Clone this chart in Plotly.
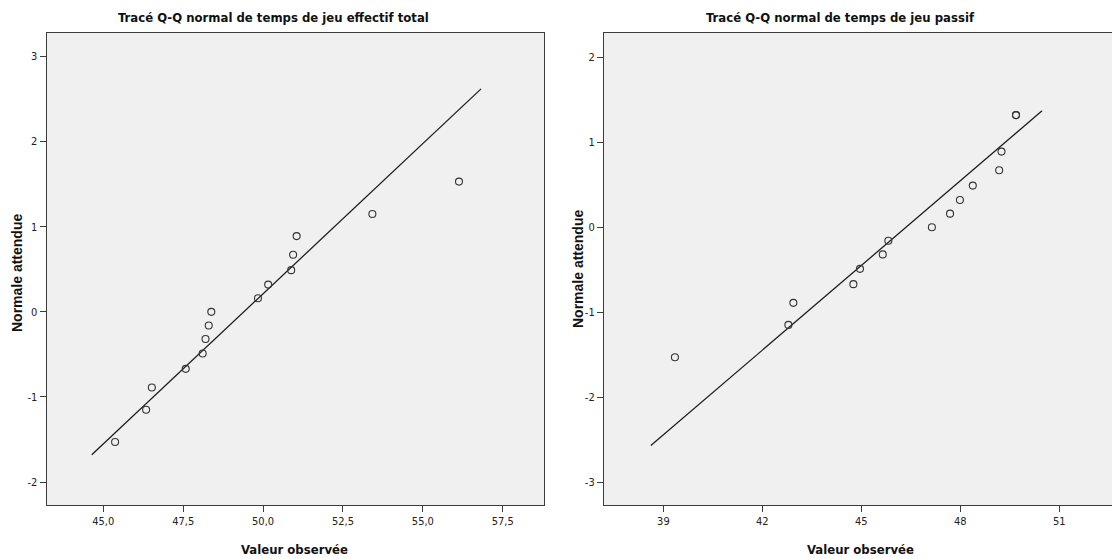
import plotly.graph_objects as go

W, H = 1112, 559

# Temps de jeu effectif total : valeurs observées et normale attendue
eff_obs = [45.37, 46.34, 46.52, 47.58, 48.11, 48.20, 48.30, 48.38,
           49.84, 50.16, 50.88, 50.94, 51.05, 53.42, 56.13]
eff_exp = [-1.53, -1.15, -0.89, -0.67, -0.49, -0.32, -0.16, 0.00,
           0.16, 0.32, 0.49, 0.67, 0.89, 1.15, 1.53]
eff_line_x = [44.64, 56.82]
eff_line_y = [-1.68, 2.62]
eff_xticks = [45.0, 47.5, 50.0, 52.5, 55.0, 57.5]
eff_xtext = ["45,0", "47,5", "50,0", "52,5", "55,0", "57,5"]
eff_yticks = [3, 2, 1, 0, -1, -2]
eff_ytext = ["3", "2", "1", "0", "-1", "-2"]

# Temps de jeu passif
pas_obs = [39.35, 42.79, 42.94, 44.76, 44.96, 45.65, 45.82, 47.14,
           47.69, 47.99, 48.38, 49.18, 49.25, 49.69, 49.69]
pas_exp = [-1.53, -1.15, -0.89, -0.67, -0.49, -0.32, -0.16, 0.00,
           0.16, 0.32, 0.49, 0.67, 0.89, 1.32, 1.32]
pas_line_x = [38.62, 50.48]
pas_line_y = [-2.57, 1.37]
pas_xticks = [39, 42, 45, 48, 51]
pas_xtext = ["39", "42", "45", "48", "51"]
pas_yticks = [2, 1, 0, -1, -2, -3]
pas_ytext = ["2", "1", "0", "-1", "-2", "-3"]

titles = ["Tracé Q-Q normal de temps de jeu effectif total",
          "Tracé Q-Q normal de temps de jeu passif"]
x_title = "Valeur observée"
y_title = "Normale attendue"

NARROW = "DejaVu Sans Condensed, Liberation Sans Narrow, Arial Narrow, sans-serif"
ARIAL = "Liberation Sans, Arial, sans-serif"
FRAME = "#3c3c3c"
INK = "#333333"


def px(x):
    return x / W


def py(y):
    return 1 - y / H


fig = go.Figure()

for obs, exp, lx, ly, xa, ya in [
    (eff_obs, eff_exp, eff_line_x, eff_line_y, "x", "y"),
    (pas_obs, pas_exp, pas_line_x, pas_line_y, "x2", "y2"),
]:
    fig.add_trace(go.Scatter(x=lx, y=ly, mode="lines", xaxis=xa, yaxis=ya,
                             line=dict(color="#1e1e1e", width=1.3),
                             hoverinfo="skip", showlegend=False))
    fig.add_trace(go.Scatter(x=obs, y=exp, mode="markers", xaxis=xa, yaxis=ya,
                             marker=dict(symbol="circle-open", size=7,
                                         color=INK, line=dict(width=1.1, color=INK)),
                             showlegend=False))

ydom = [py(505), py(32.7)]

axis_common = dict(
    showgrid=False, zeroline=False, showline=True, linecolor=FRAME, linewidth=1.2,
    ticks="outside", ticklen=6, tickwidth=1.2, tickcolor=FRAME,
    tickfont=dict(family=NARROW, size=11, color="#222222"),
)

fig.update_layout(
    width=W, height=H,
    margin=dict(l=0, r=0, t=0, b=0),
    paper_bgcolor="white",
    plot_bgcolor="#f0f0f0",
    xaxis=dict(domain=[px(46.7), px(544)], range=[43.23, 58.79], anchor="y",
               tickvals=eff_xticks, ticktext=eff_xtext, mirror=True, **axis_common),
    yaxis=dict(domain=ydom, range=[-2.27, 3.28], anchor="x",
               tickvals=eff_yticks, ticktext=eff_ytext, mirror=True, **axis_common),
    xaxis2=dict(domain=[px(604), 1.0], range=[37.2, 52.6], anchor="y2",
                tickvals=pas_xticks, ticktext=pas_xtext, mirror=True, **axis_common),
    yaxis2=dict(domain=ydom, range=[-3.27, 2.29], anchor="x2",
                tickvals=pas_yticks, ticktext=pas_ytext, mirror=False, **axis_common),
)

# Panel titles and axis titles
for cx, text in [(273.5, titles[0]), (840, titles[1])]:
    fig.add_annotation(x=px(cx), y=py(18), xref="paper", yref="paper",
                       text="<b>" + text + "</b>", showarrow=False,
                       xanchor="center", yanchor="middle",
                       font=dict(family=NARROW, size=13, color="#111111"))

for cx in [294, 860]:
    fig.add_annotation(x=px(cx), y=py(549), xref="paper", yref="paper",
                       text="<b>" + x_title + "</b>", showarrow=False,
                       xanchor="center", yanchor="middle",
                       font=dict(family=NARROW, size=13, color="#111111"))

for cx, cy in [(17, 273), (578, 269)]:
    fig.add_annotation(x=px(cx), y=py(cy), xref="paper", yref="paper",
                       text="<b>" + y_title + "</b>", showarrow=False, textangle=-90,
                       xanchor="center", yanchor="middle",
                       font=dict(family=ARIAL, size=14, color="#111111"))

fig.write_html("out.html")
